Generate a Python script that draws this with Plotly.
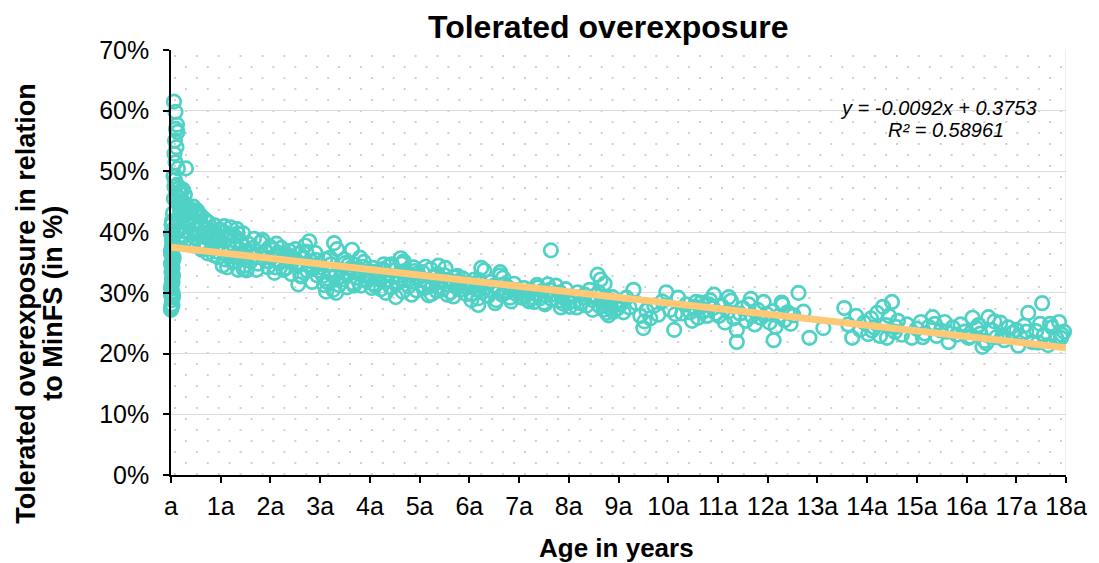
import base64
import plotly.graph_objects as go

# ---------------- data ----------------
ages_a = [0.00,0.01,0.02,0.03,0.00,0.02,0.04,0.01,0.03,0.00,
          0.02,0.01,0.04,0.03,0.00,0.02,0.05,0.01,0.03,0.00,
          0.02,0.04,0.01,0.03,0.00,0.02,0.05,0.01,0.03,0.02,
          0.00,0.04,0.01,0.03,0.02,0.05,0.00,0.03,0.01,0.04]
vals_a = [0.272,0.281,0.288,0.279,0.296,0.302,0.293,0.311,0.318,0.307,
          0.323,0.334,0.329,0.341,0.348,0.337,0.356,0.362,0.351,0.369,
          0.377,0.384,0.372,0.391,0.398,0.387,0.405,0.412,0.401,0.418,
          0.276,0.299,0.314,0.326,0.344,0.359,0.366,0.381,0.395,0.431]

ages_b = [0.06,0.09,0.12,0.10,0.13,0.08,0.11,0.07,0.09,0.14,
          0.30,0.05,0.08,0.12,0.16,0.20,0.07,0.10,0.14,0.18,
          0.24,0.28,0.06,0.11,0.17,0.22,0.26,0.33,0.38,0.42]
vals_b = [0.615,0.598,0.577,0.570,0.565,0.551,0.540,0.529,0.515,0.505,
          0.505,0.492,0.486,0.478,0.472,0.468,0.475,0.462,0.458,0.466,
          0.470,0.462,0.455,0.450,0.448,0.452,0.445,0.442,0.438,0.435]

ages_c = [0.12,0.15,0.18,0.20,0.22,0.25,0.27,0.30,0.32,0.35,
          0.38,0.40,0.43,0.45,0.48,0.50,0.52,0.55,0.58,0.60,
          0.62,0.65,0.68,0.70,0.72,0.75,0.78,0.80,0.82,0.85,
          0.88,0.90,0.92,0.95,0.98,0.14,0.24,0.34,0.44,0.54,
          0.64,0.74,0.84,0.94,0.19,0.29,0.39,0.49,0.59,0.69]
vals_c = [0.418,0.402,0.436,0.395,0.428,0.410,0.447,0.388,0.421,0.437,
          0.399,0.426,0.412,0.442,0.391,0.418,0.436,0.404,0.382,0.427,
          0.412,0.395,0.421,0.378,0.405,0.416,0.389,0.402,0.372,0.398,
          0.411,0.385,0.368,0.394,0.404,0.452,0.433,0.417,0.378,0.396,
          0.374,0.365,0.381,0.359,0.444,0.401,0.381,0.429,0.415,0.392]

ages_d = [1.02,1.05,1.08,1.10,1.13,1.15,1.18,1.20,1.23,1.25,
          1.28,1.30,1.33,1.35,1.38,1.40,1.43,1.45,1.48,1.50,
          1.55,1.60,1.65,1.70,1.75,1.80,1.85,1.90,1.95,1.99,
          1.07,1.22,1.37,1.52,1.67]
vals_d = [0.372,0.401,0.355,0.388,0.342,0.395,0.366,0.408,0.351,0.379,
          0.393,0.362,0.405,0.338,0.372,0.385,0.356,0.398,0.345,0.368,
          0.381,0.352,0.374,0.361,0.348,0.383,0.357,0.369,0.342,0.376,
          0.410,0.395,0.361,0.337,0.389]

ages_e = [2.02,2.06,2.10,2.14,2.18,2.22,2.26,2.30,2.34,2.38,
          2.42,2.46,2.50,2.54,2.58,2.62,2.66,2.70,2.74,2.78,
          2.82,2.86,2.90,2.94,2.98,2.12,2.36,2.56,2.76,2.96]
vals_e = [0.358,0.371,0.342,0.366,0.349,0.374,0.338,0.362,0.353,0.369,
          0.331,0.356,0.372,0.344,0.365,0.327,0.358,0.378,0.336,0.385,
          0.352,0.341,0.366,0.329,0.348,0.381,0.362,0.314,0.347,0.337]

ages_f = [3.02,3.06,3.10,3.14,3.18,3.22,3.26,3.30,3.34,3.38,
          3.42,3.46,3.50,3.54,3.58,3.62,3.66,3.70,3.74,3.78,
          3.82,3.86,3.90,3.94,3.98,3.28,3.64,3.12,3.48,3.88]
vals_f = [0.342,0.328,0.355,0.318,0.336,0.347,0.305,0.329,0.372,0.313,
          0.338,0.322,0.349,0.309,0.333,0.341,0.316,0.346,0.325,0.337,
          0.312,0.343,0.328,0.319,0.336,0.382,0.371,0.302,0.355,0.351]

ages_g = [4.02,4.06,4.10,4.14,4.18,4.22,4.26,4.30,4.34,4.38,
          4.42,4.46,4.50,4.54,4.58,4.62,4.66,4.70,4.74,4.78,
          4.82,4.86,4.90,4.94,4.98,4.52,4.64,4.28,4.08,4.88]
vals_g = [0.328,0.341,0.312,0.335,0.322,0.306,0.339,0.318,0.331,0.344,
          0.309,0.326,0.337,0.315,0.329,0.357,0.302,0.321,0.334,0.311,
          0.328,0.319,0.336,0.304,0.325,0.293,0.348,0.347,0.315,0.342]

ages_h = [5.02,5.06,5.10,5.14,5.18,5.22,5.26,5.30,5.34,5.38,
          5.42,5.46,5.50,5.54,5.58,5.62,5.66,5.70,5.74,5.78,
          5.82,5.86,5.90,5.94,5.98,5.12,5.36,5.56,5.76,5.96]
vals_h = [0.321,0.334,0.308,0.318,0.296,0.339,0.312,0.327,0.303,0.345,
          0.318,0.306,0.329,0.314,0.322,0.301,0.317,0.326,0.309,0.319,
          0.305,0.324,0.311,0.298,0.316,0.343,0.331,0.297,0.328,0.309]

ages_i = [6.02,6.06,6.10,6.14,6.18,6.22,6.26,6.30,6.34,6.38,
          6.42,6.46,6.50,6.54,6.58,6.62,6.66,6.70,6.74,6.78,
          6.82,6.86,6.90,6.94,6.98,6.24,6.62,6.18]
vals_i = [0.312,0.298,0.322,0.306,0.291,0.317,0.301,0.337,0.309,0.295,
          0.318,0.303,0.312,0.288,0.306,0.329,0.297,0.314,0.301,0.309,
          0.292,0.305,0.315,0.298,0.304,0.341,0.334,0.280]

ages_j = [7.02,7.06,7.10,7.14,7.18,7.22,7.26,7.30,7.34,7.38,
          7.42,7.46,7.50,7.54,7.58,7.62,7.66,7.70,7.74,7.78,
          7.82,7.86,7.90,7.94,7.98,7.64]
vals_j = [0.301,0.292,0.308,0.296,0.288,0.304,0.293,0.285,0.299,0.309,
          0.291,0.303,0.284,0.296,0.314,0.305,0.289,0.298,0.312,0.287,
          0.301,0.293,0.282,0.306,0.290,0.370]

ages_k = [8.02,8.06,8.12,8.18,8.24,8.30,8.36,8.42,8.48,8.54,
          8.58,8.62,8.66,8.70,8.74,8.78,8.82,8.86,8.90,8.94,
          8.98,8.64,8.72,8.80]
vals_k = [0.277,0.294,0.286,0.301,0.283,0.292,0.279,0.305,0.288,0.296,
          0.330,0.278,0.286,0.272,0.291,0.281,0.275,0.287,0.269,0.282,
          0.274,0.322,0.315,0.263]

ages_l = [9.04,9.10,9.16,9.22,9.30,9.36,9.44,9.50,9.56,9.64,
          9.72,9.80,9.88,9.96,10.04,10.12,10.20,10.28,10.36,10.44,
          10.52,10.60,10.66,10.72,10.78,10.84,10.90,10.96,10.56,10.64,
          10.70,10.82,10.48,10.14,9.52,10.92]
vals_l = [0.281,0.268,0.292,0.276,0.305,0.283,0.262,0.242,0.271,0.258,
          0.279,0.264,0.286,0.301,0.272,0.239,0.292,0.266,0.281,0.268,
          0.277,0.259,0.284,0.271,0.262,0.288,0.275,0.266,0.285,0.276,
          0.269,0.281,0.254,0.265,0.253,0.297]

ages_m = [11.02,11.08,11.14,11.20,11.26,11.32,11.38,11.44,11.50,11.56,
          11.62,11.68,11.74,11.80,11.86,11.92,11.98,12.04,12.10,12.16,
          12.22,12.28,12.34,12.40,12.46,12.52,12.62,12.72,12.84,13.12,
          13.54,11.38,12.12,11.22,12.30,11.66]
vals_m = [0.262,0.278,0.251,0.269,0.287,0.258,0.239,0.266,0.275,0.254,
          0.281,0.262,0.248,0.272,0.259,0.285,0.265,0.251,0.270,0.244,
          0.262,0.284,0.255,0.268,0.249,0.263,0.300,0.269,0.226,0.242,
          0.275,0.219,0.222,0.293,0.281,0.290]

ages_n = [13.62,13.70,13.78,13.86,13.94,14.02,14.08,14.14,14.20,14.26,
          14.32,14.38,14.44,14.50,14.56,14.62,14.70,14.80,14.90,15.00,
          15.08,15.16,15.24,15.32,15.40,15.48,15.56,15.64,15.72,15.80,
          15.88,15.96,16.04,16.12,16.20,16.28,16.36,16.44,16.52,16.60,
          16.68,16.76,16.84,16.92,17.00,17.08,17.16,17.24,17.32,17.40,
          17.48,17.56,17.64,17.72,17.80,17.86,17.92,17.96,17.52,16.32]
vals_n = [0.248,0.226,0.262,0.239,0.251,0.232,0.258,0.243,0.267,0.229,
          0.277,0.247,0.262,0.285,0.236,0.254,0.231,0.248,0.226,0.241,
          0.252,0.233,0.244,0.260,0.229,0.238,0.252,0.219,0.243,0.231,
          0.248,0.236,0.226,0.259,0.242,0.233,0.221,0.260,0.238,0.227,
          0.251,0.222,0.243,0.234,0.239,0.228,0.246,0.267,0.219,0.237,
          0.249,0.231,0.214,0.243,0.226,0.252,0.231,0.236,0.283,0.211]

ages_o = [0.55,0.62,0.70,0.78,0.86,0.94,1.04,1.12,1.26,1.34,
          1.46,1.58,1.72,1.84,1.96,2.08,2.20,2.32,2.44,2.60,
          2.72,2.84,2.92,3.08,3.20,3.32,3.44,3.56,3.68,3.80,
          3.92,4.04,4.16,4.32,4.44,4.56,4.68,4.84,4.96,5.08,
          5.24,5.40,5.52,5.68,5.84,6.04,6.20,6.36,6.52,6.68,
          6.84,7.04,7.20,7.36,7.52,7.68,7.84,8.00,8.16,8.32,
          8.48,8.60,8.76,8.88,14.10,14.40,14.58,15.12,15.36,15.60,
          16.08,16.24,16.40,16.56,16.72,17.04,17.20,17.44,17.68,17.90]
vals_o = [0.432,0.371,0.418,0.396,0.362,0.377,0.345,0.389,0.352,0.398,
          0.339,0.364,0.338,0.387,0.352,0.333,0.364,0.341,0.351,0.329,
          0.368,0.318,0.354,0.313,0.358,0.300,0.327,0.346,0.312,0.358,
          0.322,0.308,0.329,0.300,0.347,0.318,0.352,0.297,0.332,0.312,
          0.298,0.321,0.341,0.294,0.306,0.288,0.321,0.296,0.283,0.325,
          0.286,0.294,0.286,0.313,0.281,0.298,0.276,0.284,0.276,0.297,
          0.272,0.301,0.267,0.293,0.238,0.226,0.244,0.227,0.249,0.236,
          0.228,0.247,0.217,0.253,0.229,0.213,0.236,0.218,0.249,0.226]

ages = (ages_a + ages_b + ages_c + ages_d + ages_e + ages_f + ages_g +
        ages_h + ages_i + ages_j + ages_k + ages_l + ages_m + ages_n + ages_o)
overexposure = (vals_a + vals_b + vals_c + vals_d + vals_e + vals_f + vals_g +
                vals_h + vals_i + vals_j + vals_k + vals_l + vals_m + vals_n +
                vals_o)

# linear trend line as labelled on the chart
trend_slope = -0.0092
trend_intercept = 0.3753
trend_x = [0, 18]
trend_y = [trend_intercept + trend_slope * v for v in trend_x]

x_tickvals = list(range(0, 19))
x_ticktext = ["a"] + [f"{i}a" for i in range(1, 19)]

# ---------------- styling ----------------
FONT = "Liberation Sans, Arial, sans-serif"
OFF = 8                       # page body margin of the browser
W, H = 1099 - OFF, 563 - OFF
PX0, PX1, PY0, PY1 = 171, 1071, 50, 475   # plot area in picture pixels
ML, MT = PX0 - OFF, PY0 - OFF
PW, PH = PX1 - PX0, PY1 - PY0
MR, MB = W - ML - PW, H - MT - PH


def px(xpix):
    return (xpix - PX0) / PW


def py(ypix):
    return (PY1 - ypix) / PH


# dotted background pattern (staggered dots, like the reference)
svg = (f'<svg xmlns="http://www.w3.org/2000/svg" width="{PW}" height="{PH}">'
       '<defs><pattern id="p" width="22" height="22" patternUnits="userSpaceOnUse">'
       '<rect x="3" y="5" width="2" height="2" fill="#cfcfcf"/>'
       '<rect x="14" y="16" width="2" height="2" fill="#cfcfcf"/>'
       '</pattern></defs>'
       f'<rect width="{PW}" height="{PH}" fill="url(#p)"/></svg>')
svg_uri = "data:image/svg+xml;base64," + base64.b64encode(svg.encode()).decode()

fig = go.Figure()
fig.add_trace(go.Scatter(
    x=ages, y=overexposure, mode="markers", cliponaxis=False,
    marker=dict(symbol="circle-open", size=13.5, color="#4fd1c5",
                line=dict(width=2.7, color="#4fd1c5")),
    showlegend=False, hoverinfo="x+y"))
fig.add_trace(go.Scatter(
    x=trend_x, y=trend_y, mode="lines", cliponaxis=False,
    line=dict(color="#ffc877", width=7), showlegend=False))

ann_font = dict(family=FONT, color="black")
fig.update_layout(
    width=W, height=H,
    margin=dict(l=ML, r=MR, t=MT, b=MB, pad=0),
    paper_bgcolor="white", plot_bgcolor="rgba(0,0,0,0)",
    font=dict(family=FONT, color="black"),
    images=[dict(source=svg_uri, xref="paper", yref="paper", x=0, y=1,
                 sizex=1, sizey=1, xanchor="left", yanchor="top",
                 sizing="stretch", layer="below")],
    xaxis=dict(range=[0, 18], tickvals=x_tickvals, ticktext=x_ticktext,
               showgrid=False, zeroline=False, showline=True,
               linecolor="black", linewidth=1.5, ticks="outside",
               ticklen=6, tickcolor="black", tickwidth=1.5,
               tickfont=dict(size=25, family=FONT), ticklabelstandoff=2),
    yaxis=dict(range=[0, 0.7], dtick=0.1, tickformat=".0%",
               showgrid=True, gridcolor="#dcdcdc", gridwidth=1,
               zeroline=False, showline=True, linecolor="black",
               linewidth=1.5, ticks="outside", ticklen=6,
               tickcolor="black", tickwidth=1.5,
               tickfont=dict(size=25, family=FONT), ticklabelstandoff=9),
    shapes=[dict(type="line", xref="x", yref="y", x0=18, x1=18, y0=0, y1=0.7,
                 line=dict(color="#dcdcdc", width=1), layer="below")],
    annotations=[
        dict(text="<b>Tolerated overexposure</b>", xref="paper", yref="paper",
             x=px(610), y=py(27), xanchor="center", yanchor="middle",
             showarrow=False, font=dict(size=32, **ann_font)),
        dict(text="<b>Age in years</b>", xref="paper", yref="paper",
             x=px(619), y=py(548), xanchor="center", yanchor="middle",
             showarrow=False, font=dict(size=26, **ann_font)),
        dict(text="<b>Tolerated overexposure in relation</b>", xref="paper",
             yref="paper", x=px(25), y=py(303), xanchor="center",
             yanchor="middle", textangle=-90, showarrow=False,
             font=dict(size=27, **ann_font)),
        dict(text="<b>to MinFS (in %)</b>", xref="paper",
             yref="paper", x=px(52), y=py(303), xanchor="center",
             yanchor="middle", textangle=-90, showarrow=False,
             font=dict(size=27, **ann_font)),
        dict(text="<i>y = -0.0092x + 0.3753</i>", xref="paper",
             yref="paper", x=px(943), y=py(108), xanchor="center",
             yanchor="middle", showarrow=False, font=dict(size=20, **ann_font)),
        dict(text="<i>R² = 0.58961</i>", xref="paper",
             yref="paper", x=px(950), y=py(130), xanchor="center",
             yanchor="middle", showarrow=False, font=dict(size=20, **ann_font)),
    ],
)

fig.write_html("out.html")
